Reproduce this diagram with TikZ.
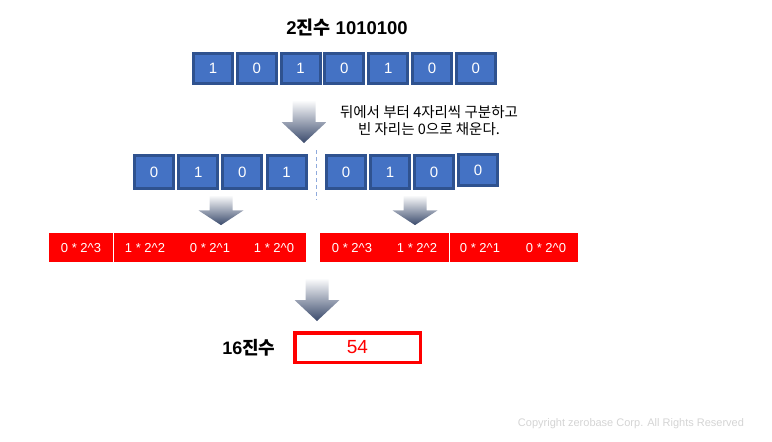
\documentclass[tikz,border=0pt]{standalone}
\usepackage{fontspec}
\setmainfont{Liberation Sans}
\newfontfamily\kr{Noto Sans CJK KR}
\definecolor{bitblue}{HTML}{4472C4}
\definecolor{bitedge}{HTML}{2F528F}
\definecolor{arrmid}{HTML}{C4C9D4}
\definecolor{arrdark}{HTML}{3A4A6C}
\definecolor{cutblue}{HTML}{8FAADC}
\definecolor{copygray}{HTML}{D4D4D4}
\tikzset{
  bitbox/.style={draw=bitedge, line width=3pt, fill=bitblue, text=white,
    minimum width=39pt, minimum height=30pt, inner sep=0pt,
    font=\fontsize{15}{17}\selectfont},
  cell/.style={fill=red, minimum height=29pt, inner sep=0pt},
  celltext/.style={text=white, inner sep=0pt, font=\fontsize{13}{15}\selectfont},
  downarrow/.pic={
    \shade[top color=white, middle color=arrmid, bottom color=arrdark]
      (-11.5,0) -- (11.5,0) -- (11.5,22) -- (22.5,22) -- (0,43)
      -- (-22.5,22) -- (-11.5,22) -- cycle;
  }
}
\begin{document}
\begin{tikzpicture}[x=1pt, y=-1pt]
  \useasboundingbox (0,0) rectangle (772,442);
  % binary input
  \node[font=\bfseries\fontsize{18.5}{21}\selectfont] (bintitle) at (347,28) {2{\kr 진수} 1010100};
  \foreach \b [count=\i] in {1,0,1,0,1,0,0}
    \node[bitbox] (top\i) at ({213+43.8*(\i-1)},68.5) {\b};
  \pic at (304,100) {downarrow};
  \node[align=center, font=\kr\fontsize{14.5}{17}\selectfont] (rule) at (429,121)
    {뒤에서 부터 4자리씩 구분하고\\빈 자리는 0으로 채운다.};
  % groups of four
  \foreach \b [count=\i] in {0,1,0,1}
    \node[bitbox, minimum height=33pt] (lo\i) at ({154+44.2*(\i-1)},172) {\b};
  \foreach \b [count=\i] in {0,1,0}
    \node[bitbox, minimum height=33pt] (ro\i) at ({346+44*(\i-1)},172) {\b};
  \node[bitbox, minimum height=31pt] (ro4) at (478,170) {0};
  \coordinate (cuttop) at (316,150);
  \coordinate (cutbot) at (316,200);
  \draw[cutblue, line width=0.8pt, dash pattern=on 4pt off 3pt] (cuttop) -- (cutbot);
  \pic[yscale=0.7] at (221,195) {downarrow};
  \pic[yscale=0.7] at (415,195) {downarrow};
  % weights
  \node[cell, minimum width=64pt] (lc1) at (81,247.5) {};
  \node[cell, minimum width=192pt] (lc2) at (210,247.5) {};
  \node[cell, minimum width=129pt] (rc1) at (384.5,247.5) {};
  \node[cell, minimum width=128pt] (rc2) at (514,247.5) {};
  \foreach \t/\xx [count=\i] in {0 * 2\textasciicircum 3/81, 1 * 2\textasciicircum 2/145,
      0 * 2\textasciicircum 1/210, 1 * 2\textasciicircum 0/274,
      0 * 2\textasciicircum 3/352, 1 * 2\textasciicircum 2/417,
      0 * 2\textasciicircum 1/480, 0 * 2\textasciicircum 0/546}
    \node[celltext] (w\i) at (\xx,248) {\t};
  % hex result
  \pic at (317,278) {downarrow};
  \node[font=\bfseries\fontsize{18}{20}\selectfont, anchor=east] (hexlabel) at (279,348) {16{\kr 진수}};
  \node[draw=red, line width=3.5pt, minimum width=125.5pt, minimum height=29.5pt,
    text=red, font=\fontsize{19}{21}\selectfont] (hex) at (357.5,347.5) {54};
  \node[text=copygray, font=\fontsize{11}{13}\selectfont] (copy) at (631,424)
    {Copyright zerobase Corp. All Rights Reserved};
\end{tikzpicture}
\end{document}
